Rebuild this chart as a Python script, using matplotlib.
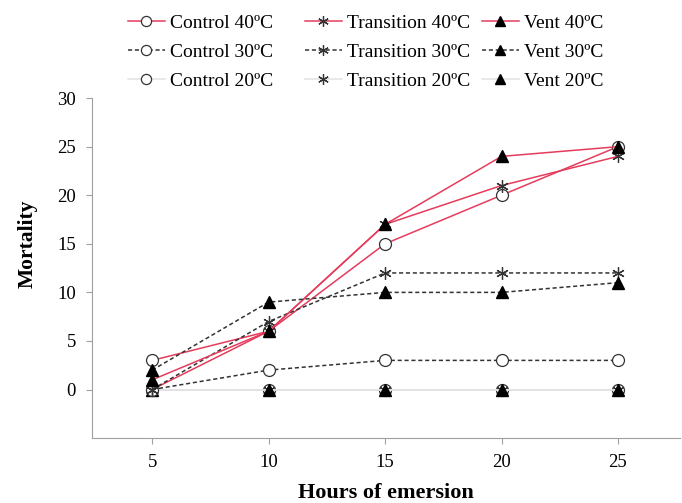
import numpy as np
import matplotlib.pyplot as plt

plt.rcParams['font.family'] = ['Liberation Serif', 'DejaVu Serif']

# hours of emersion
hours = [5, 10, 15, 20, 25]

# mortality values
control_40 = [3, 6, 15, 20, 25]
control_30 = [0, 2, 3, 3, 3]
control_20 = [0, 0, 0, 0, 0]
transition_40 = [0, 6, 17, 21, 24]
transition_30 = [0, 7, 12, 12, 12]
transition_20 = [0, 0, 0, 0, 0]
vent_40 = [1, 6, 17, 24, 25]
vent_30 = [2, 9, 10, 10, 11]
vent_20 = [0, 0, 0, 0, 0]

labels = ['Control 40ºC', 'Control 30ºC', 'Control 20ºC',
          'Transition 40ºC', 'Transition 30ºC', 'Transition 20ºC',
          'Vent 40ºC', 'Vent 30ºC', 'Vent 20ºC']
series = [control_40, control_30, control_20,
          transition_40, transition_30, transition_20,
          vent_40, vent_30, vent_20]

red = '#e63c5c'
dark = '#333333'
faint = '#e2e2e2'
dash = (0, (2.7, 1.8))
star = (6, 2, 0)
circ = dict(marker='o', mfc='white', mec=dark, ms=8.6, mew=0.9)
ast = dict(marker=star, mfc=dark, mec=dark, ms=9, mew=0.9)
tri = dict(marker='^', mfc='black', mec='black', ms=8)
styles = [
    dict(color=red, ls='-', **circ),
    dict(color=dark, ls=dash, **circ),
    dict(color=faint, ls='-', **circ),
    dict(color=red, ls='-', **ast),
    dict(color=dark, ls=dash, **ast),
    dict(color=faint, ls='-', **ast),
    dict(color=red, ls='-', **tri),
    dict(color=dark, ls=dash, **tri),
    dict(color=faint, ls='-', **tri),
]
zorders = [3, 3, 1, 3, 3, 1, 3, 3, 1]

fig = plt.figure(figsize=(6.82, 5.03), dpi=100)
ax = fig.add_axes([0.135, 0.129, 0.862, 0.676])

handles = []
for y, lab, st, z in zip(series, labels, styles, zorders):
    h, = ax.plot(hours, y, lw=1.1, label=lab, zorder=z, **st)
    handles.append(h)

ax.set_xlim(2.42, 27.66)
ax.set_ylim(-5, 30)
ax.set_xticks(hours)
ax.set_yticks(np.arange(0, 31, 5))

for s in ['top', 'right']:
    ax.spines[s].set_visible(False)
for s in ['left', 'bottom']:
    ax.spines[s].set_color('#a0a0a0')
    ax.spines[s].set_linewidth(0.8)
ax.tick_params(colors='#a0a0a0', labelcolor='black', labelsize=13.5,
               length=4, width=0.8, pad=7.5)

ax.set_xlabel('Hours of emersion', fontsize=16, fontweight='bold', labelpad=8.5)
ax.set_ylabel('Mortality', fontsize=15.5, fontweight='bold')
ax.yaxis.set_label_coords(-0.093, 0.571)

# three legend columns of equal width, like the original
col_x = [128, 305, 482]
for i, x0 in enumerate(col_x):
    leg = fig.legend(handles=handles[3 * i:3 * i + 3], labels=labels[3 * i:3 * i + 3],
                     loc='upper left', bbox_to_anchor=(x0 / 682, 0.971),
                     frameon=False, fontsize=14, handlelength=1.9,
                     handletextpad=0.25, labelspacing=0.58, borderpad=0,
                     borderaxespad=0, markerscale=0.85)

fig.savefig('out.png', dpi=100)
